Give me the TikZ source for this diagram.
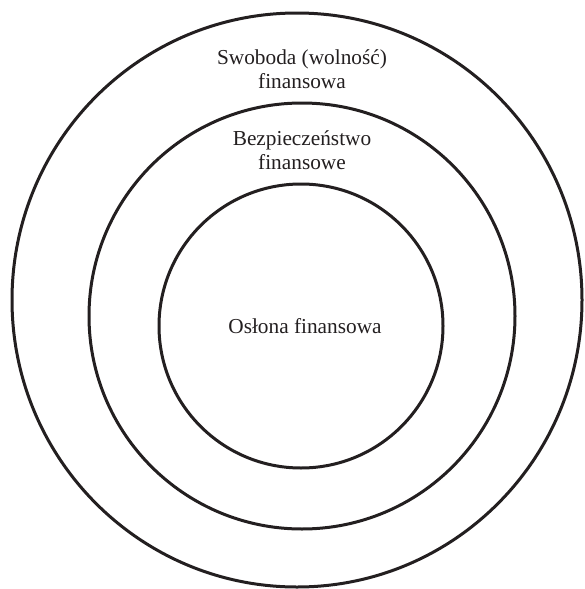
\documentclass[tikz,border=0pt]{standalone}
\usepackage{fontspec}
\setmainfont{Liberation Serif}
\usepackage{xcolor}
\usepackage{tikz}
\usetikzlibrary{positioning}

\definecolor{ink}{HTML}{231F20}

\begin{document}
\begin{tikzpicture}[x=1pt, y=-1pt, line width=3pt, draw=ink,
  label/.style={text=ink, align=center, inner sep=0pt,
    font=\fontsize{21.3}{24}\selectfont}]
  \useasboundingbox (0,0) rectangle (584,589);

  \coordinate (O0) at (297, 300);
  \coordinate (O1) at (302, 316);
  \coordinate (O2) at (301, 326);

  % rings
  \draw[ink] (O0) circle[x radius=285, y radius=287];
  \draw[ink] (O1) circle[radius=213];
  \draw[ink] (O2) circle[radius=142];

  \node[label] (L0) at (302, 69)  {Swoboda (wolność)\\finansowa};
  \node[label] (L1) at (302, 150) {Bezpieczeństwo\\finansowe};
  \node[label] (L2) at (305, 326) {Osłona finansowa};
\end{tikzpicture}
\end{document}
